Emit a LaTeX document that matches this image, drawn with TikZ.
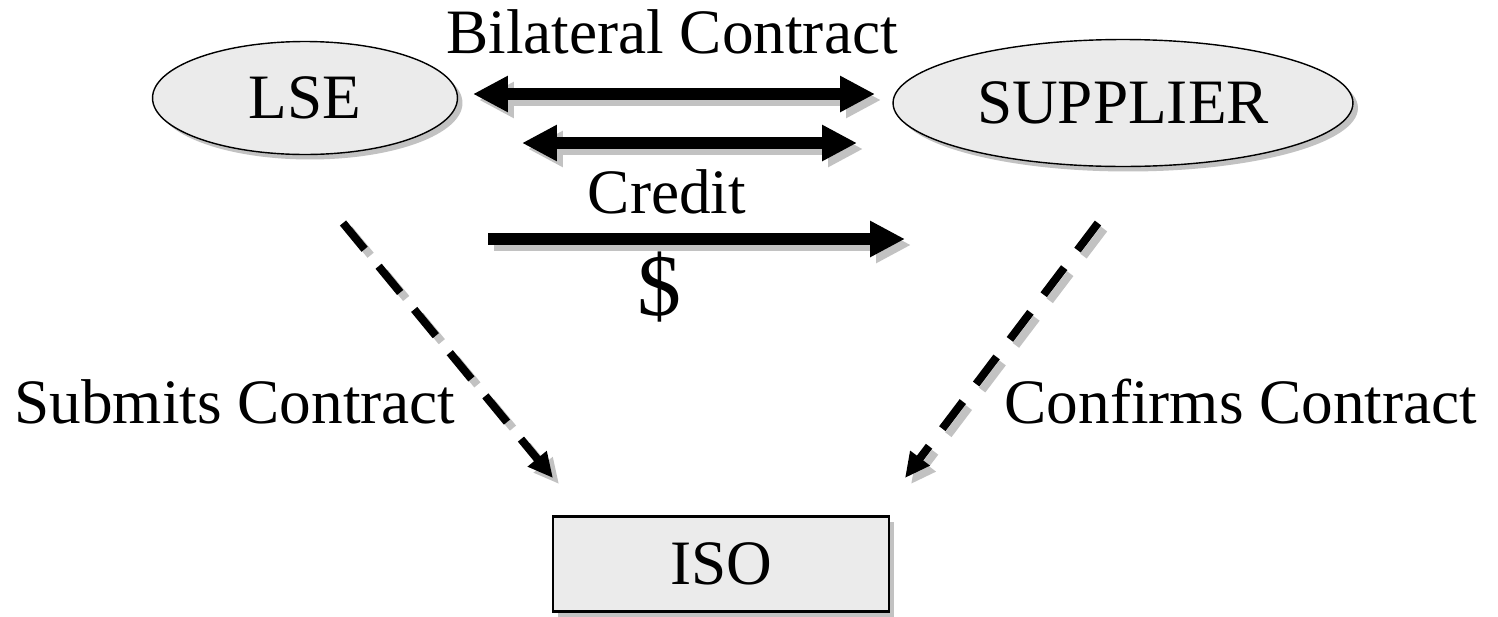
\documentclass[tikz,border=0pt]{standalone}
\usepackage{fontspec}
\setmainfont{Liberation Serif}
\usetikzlibrary{arrows.meta,shapes.geometric,shadows}
\definecolor{boxgray}{gray}{0.92}
\definecolor{shadegray}{gray}{0.76}
\tikzset{
  every node/.style={font=\fontsize{36}{40}\selectfont, inner sep=0pt},
  party/.style={ellipse, draw, line width=0.8pt, fill=boxgray,
    drop shadow={shadow xshift=0.1cm, shadow yshift=-0.1cm, fill=shadegray, opacity=1}},
  office/.style={rectangle, draw, line width=1.5pt, fill=boxgray,
    minimum width=6.72cm, minimum height=1.9cm,
    drop shadow={shadow xshift=0.1cm, shadow yshift=-0.1cm, fill=shadegray, opacity=1}},
  fat/.style={line width=0.23cm, >={Triangle[length=0.7cm,width=0.68cm]}},
  report/.style={line width=0.16cm, dash pattern=on 0.68cm off 0.44cm,
    -{Triangle[length=0.5cm,width=0.46cm]}},
  shade/.style={color=shadegray, transform canvas={shift={(0.12cm,-0.12cm)}}}
}
\begin{document}
\begin{tikzpicture}[x=0.02cm,y=-0.02cm]
\useasboundingbox (0,0) rectangle (1498,616);
% parties
\node[party, minimum width=6.1cm, minimum height=2.26cm] (lse) at (305,98) {LSE};
\node[party, minimum width=9.2cm, minimum height=2.54cm] (supplier) at (1123,103) {SUPPLIER};
\node[office] (iso) at (721,564) {ISO};
% arrow ends
\coordinate (bilL) at (473,94);
\coordinate (bilR) at (875,94);
\coordinate (credL) at (522,143);
\coordinate (credR) at (857,143);
\coordinate (payL) at (488,239);
\coordinate (payR) at (905,239);
\coordinate (subA) at (343,223);
\coordinate (subB) at (553,478);
\coordinate (confA) at (1098,223);
\coordinate (confB) at (905,478);
% shadows
\draw[fat, <->, shade] (bilL) -- (bilR);
\draw[fat, <->, shade] (credL) -- (credR);
\draw[fat, ->, shade] (payL) -- (payR);
\draw[report, shade] (subA) -- (subB);
\draw[report, shade] (confA) -- (confB);
% arrows
\draw[fat, <->] (bilL) -- (bilR);
\draw[fat, <->] (credL) -- (credR);
\draw[fat, ->] (payL) -- (payR);
\draw[report] (subA) -- (subB);
\draw[report] (confA) -- (confB);
% labels
\node[anchor=base] (bilat) at (672,53) {Bilateral Contract};
\node[anchor=base] (credit) at (667,213) {Credit};
\node[anchor=base, font=\fontsize{50}{54}\selectfont] (dollar) at (659,315) {\$};
\node[anchor=base] (submits) at (235,423) {Submits Contract};
\node[anchor=base] (confirms) at (1241,423) {Confirms Contract};
\end{tikzpicture}
\end{document}
